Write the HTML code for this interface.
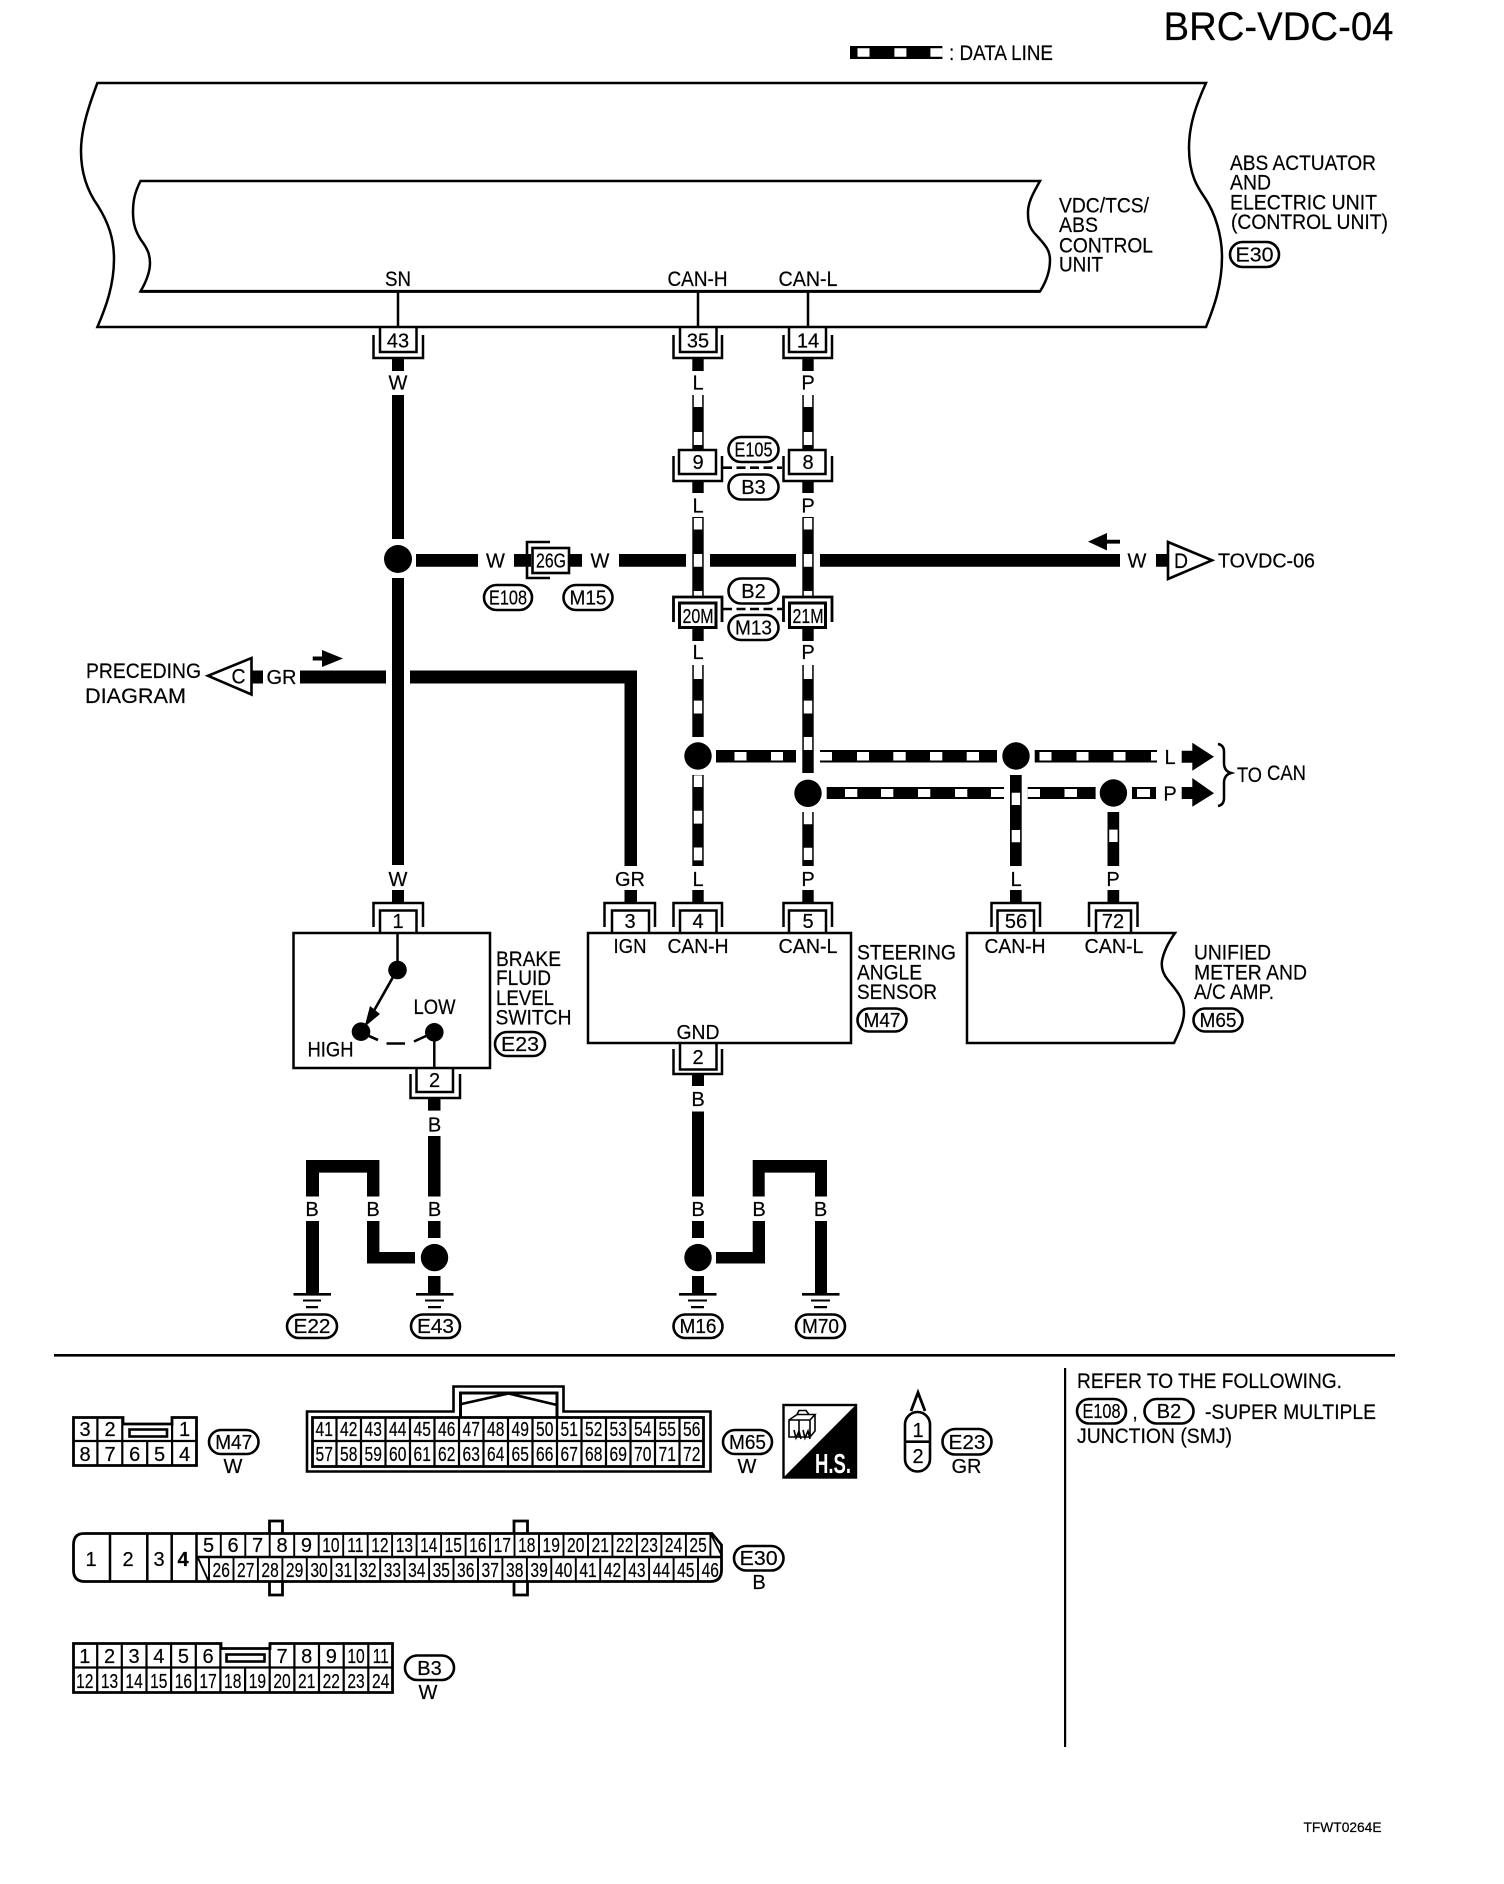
<!DOCTYPE html>
<html><head><meta charset="utf-8"><title>BRC-VDC-04</title>
<style>
html,body{margin:0;padding:0;background:#fff}
svg{display:block}
text{font-family:"Liberation Sans",sans-serif;font-size:20px;fill:#000;text-anchor:middle;stroke:#000;stroke-width:.2}
.s{text-anchor:start}
.l{font-size:21px}
.d{transform-box:fill-box;transform-origin:center;transform:scaleX(.78)}
.ln{fill:none;stroke:#000;stroke-width:2.5}
.ov{fill:#fff;stroke:#000;stroke-width:2.6}
</style></head><body>
<svg width="1504" height="1884" viewBox="0 0 1504 1884" xmlns="http://www.w3.org/2000/svg">
<rect width="1504" height="1884" fill="#fff"/>
<text class="s" x="1163.5" y="40" style="font-size:40px" textLength="230" lengthAdjust="spacingAndGlyphs">BRC-VDC-04</text>
<rect x="850" y="46" width="92.4" height="13"/>
<path fill="#fff" d="M857.5 48.2h12v8.6h-12zM894.4 48.2h12v8.6h-12zM930.4 48.2h12v8.6h-12z"/>
<text class="s l" x="949" y="60" textLength="104" lengthAdjust="spacingAndGlyphs">: DATA LINE</text>

<!-- control units -->
<path class="ln" d="M97.4 83H1206C1196 105 1189 125 1189 148C1189 175 1198 188 1205 198C1215 213 1222 235 1222 257C1222 285 1214 307 1206 327H97.4C106 307 114 285 114 259C114 238 108 222 98 206C88 192 81 175 81 151C81 130 88 108 97.4 83Z"/>
<path class="ln" d="M140.5 181H1040C1034 192 1027.5 202 1028 214C1028 226 1032 231 1038 237C1045 245 1050 250 1050 260C1050 272 1046 282 1040 291.4H140.5C146 282 150 272 150 263C150 254 147 248 141 240C136 232 133 225 133 212C133 200 135 192 140.5 181Z"/>
<path class="ln" style="stroke-width:3" d="M140.5 291.4H1040"/>
<path class="ln" d="M398 291V327M698 291V327M808 291V327"/>
<text class="l" x="398" y="286" textLength="26" lengthAdjust="spacingAndGlyphs">SN</text>
<text class="l" x="697.5" y="286" textLength="60" lengthAdjust="spacingAndGlyphs">CAN-H</text>
<text class="l" x="808" y="286" textLength="59" lengthAdjust="spacingAndGlyphs">CAN-L</text>
<text class="s l" x="1059" y="212.5" textLength="90" lengthAdjust="spacingAndGlyphs">VDC/TCS/</text>
<text class="s l" x="1059" y="232" textLength="39" lengthAdjust="spacingAndGlyphs">ABS</text>
<text class="s l" x="1059" y="252.5" textLength="94" lengthAdjust="spacingAndGlyphs">CONTROL</text>
<text class="s l" x="1059" y="271.5" textLength="44" lengthAdjust="spacingAndGlyphs">UNIT</text>
<text class="s l" x="1230" y="170" textLength="146" lengthAdjust="spacingAndGlyphs">ABS ACTUATOR</text>
<text class="s l" x="1230" y="189.5" textLength="41" lengthAdjust="spacingAndGlyphs">AND</text>
<text class="s l" x="1230" y="209.5" textLength="147" lengthAdjust="spacingAndGlyphs">ELECTRIC UNIT</text>
<text class="s l" x="1231" y="229" textLength="157" lengthAdjust="spacingAndGlyphs">(CONTROL UNIT)</text>
<rect class="ov" x="1230" y="242" width="49" height="25" rx="12.5"/><text x="1254.5" y="261.5" textLength="38" lengthAdjust="spacingAndGlyphs">E30</text>

<!-- wires black -->
<path d="M392 358h12v13h-12zM392 395h12v144h-12zM392 578h12v287h-12zM392 890h12v13h-12z"/>
<path d="M692.3 358h11.4v13h-11.4zM692.3 395h11.4v54h-11.4zM692.3 481h11.4v12h-11.4zM692.3 517h11.4v80h-11.4zM692.3 627h11.4v14h-11.4zM692.3 665h11.4v72h-11.4zM692.3 775h11.4v91h-11.4zM692.3 890h11.4v13h-11.4z"/>
<path d="M802.3 358h11.4v13h-11.4zM802.3 395h11.4v54h-11.4zM802.3 481h11.4v12h-11.4zM802.3 517h11.4v80h-11.4zM802.3 627h11.4v14h-11.4zM802.3 665h11.4v108h-11.4zM802.3 812h11.4v54h-11.4zM802.3 890h11.4v13h-11.4z"/>
<path d="M1010 775h11.7v91h-11.7zM1010 890h11.7v13h-11.7zM1107.5 812h11.7v54h-11.7zM1107.5 890h11.7v13h-11.7z"/>
<!-- W horizontal -->
<path d="M416 554h62v12.7h-62zM514 554h17v12.7h-17zM569 554h13v12.7h-13zM619 554h67v12.7h-67zM710 554h86v12.7h-86zM820 554h300v12.7H820zM1156 554h12v12.7h-12z"/>
<!-- GR -->
<path d="M252 670.5h11v13h-11zM300 670.5h86v13h-86zM410 670.5h227V866h-12.5V683.5H410zM624.5 890H637v13h-12.5z"/>
<!-- CAN horizontals -->
<path d="M716 750h80v12.5h-80zM820 750h177v12.5H820zM1034.7 750h122.3v12.5h-122.3z"/>
<path d="M826.7 787h177.3v12h-177.3zM1027.7 787h67.9v12h-67.9zM1132 787h24v12h-24z"/>
<!-- B wires -->
<path d="M428 1098h12.5v12.6H428zM428 1136h12.5v60.5H428zM428 1221h12.5v17H428zM428 1276h12.5v18H428z"/>
<path d="M306 1294V1221h13v73zM306 1196.5V1160h73.4v36.5H367V1172.6H319v23.9zM367 1221h12.4v31H415v11.5H367z"/>
<path d="M692 1074h12v12h-12zM692 1111.5h12v85h-12zM692 1221h12v17h-12zM692 1276h12v18h-12z"/>
<path d="M716 1252h36.7V1221H765v42.5h-49zM752.7 1196.5V1160H827v36.5h-12V1172.6h-50.3v23.9zM815 1221h12v73h-12z"/>
<!-- white dashes -->
<path fill="#fff" d="M693.8 395h8.4v12h-8.4zM693.8 432h8.4v13h-8.4zM693.8 518h8.4v11.5h-8.4zM693.8 554h8.4v12.7h-8.4zM693.8 591h8.4v5h-8.4zM693.8 665h8.4v14h-8.4zM693.8 700.6h8.4v12.9h-8.4zM693.8 775.4h8.4v11.6h-8.4zM693.8 810.8h8.4v12.8h-8.4zM693.8 847.5h8.4v12.9h-8.4z"/>
<path fill="#fff" d="M803.8 395h8.4v12h-8.4zM803.8 432h8.4v13h-8.4zM803.8 518h8.4v11.5h-8.4zM803.8 554h8.4v12.7h-8.4zM803.8 591h8.4v5h-8.4zM803.8 665h8.4v14h-8.4zM803.8 700.6h8.4v12.9h-8.4zM803.8 737h8.4v13h-8.4zM803.8 812h8.4v12.3h-8.4zM803.8 847.7h8.4v12.3h-8.4z"/>
<path fill="#fff" d="M1011.7 792.7h8.4V805h-8.4zM1011.7 830h8.4v12.3h-8.4zM1109.2 829.6h8.4V842h-8.4z"/>
<path fill="#fff" d="M734.5 752h12v8.5h-12zM771 752h12v8.5h-12zM820 752h12v8.5h-12zM857 752h12v8.5h-12zM893.3 752h12.4v8.5h-12.4zM930 752h12.3v8.5H930zM966.7 752h12.3v8.5h-12.3zM1039.5 752h12v8.5h-12zM1076.5 752h12v8.5h-12zM1113.5 752h12v8.5h-12zM1151 752h6v8.5h-6z"/>
<path fill="#fff" d="M845 789h12.3v8H845zM881 789h12.3v8H881zM918 789h12.3v8H918zM955 789h12.3v8H955zM991 789h13v8h-13zM1027.7 789h12.3v8h-12.3zM1064.5 789h12.5v8h-12.5zM1137 789h13v8h-13z"/>
<!-- dots -->
<circle cx="398" cy="559" r="14"/><circle cx="698" cy="756" r="13.7"/><circle cx="808" cy="793.3" r="13.7"/><circle cx="1016" cy="756" r="13.7"/><circle cx="1113.4" cy="793" r="13.7"/><circle cx="434.5" cy="1257.6" r="13.7"/><circle cx="698" cy="1257.6" r="13.7"/>

<!-- wire letters -->
<text x="398" y="389.5">W</text><text x="698" y="389.5">L</text><text x="808" y="389.5">P</text>
<text x="698" y="512.5">L</text><text x="808" y="512.5">P</text>
<text x="698" y="659">L</text><text x="808" y="659">P</text>
<text x="398" y="886">W</text><text x="630" y="886">GR</text><text x="698" y="886">L</text><text x="808" y="886">P</text><text x="1016" y="886">L</text><text x="1113" y="886">P</text>
<text x="495.5" y="567.5">W</text><text x="600" y="567.5">W</text><text x="1137" y="567.5">W</text>
<text x="281.5" y="684">GR</text>
<text x="1170" y="764">L</text><text x="1170" y="800.5">P</text>
<text x="434.5" y="1131.5">B</text><text x="434.5" y="1216">B</text><text x="312" y="1216">B</text><text x="373" y="1216">B</text>
<text x="698" y="1106">B</text><text x="698" y="1216">B</text><text x="759" y="1216">B</text><text x="820.5" y="1216">B</text>

<!-- connectors: bottom type -->
<path class="ln" d="M373.5 335V358H423V335M673.5 335V358H722V335M783.5 335V358H832V335"/>
<path class="ln" d="M380 327V352H416.5V327M680 327V352H716.5V327M789 327V352H826V327"/>
<text x="398" y="347.5">43</text><text x="698" y="347.5">35</text><text x="808" y="347.5">14</text>
<path class="ln" d="M673.5 456V481H722V456M783.5 456V481H832V456"/>
<rect class="ln" x="679" y="450" width="37" height="24" style="fill:#fff"/><rect class="ln" x="789" y="450" width="36.5" height="24" style="fill:#fff"/>
<text x="698" y="469">9</text><text x="808" y="469">8</text>
<rect class="ov" x="728.5" y="437" width="50" height="25" rx="12.5"/><text x="753.5" y="456.5" textLength="38" lengthAdjust="spacingAndGlyphs">E105</text>
<rect class="ov" x="728.5" y="474.5" width="50" height="25" rx="12.5"/><text x="753.5" y="494">B3</text>
<path d="M723 467.7H782" stroke="#000" stroke-width="2.6" stroke-dasharray="9 4.5" fill="none"/>
<!-- 20M / 21M -->
<path class="ln" d="M673.5 622V597H722V622M783.5 622V597H832V622" style="stroke-width:2.8"/>
<rect x="679.5" y="603" width="36.5" height="24.5" fill="#fff" stroke="#000" stroke-width="3"/><rect x="789.5" y="603" width="36" height="24.5" fill="#fff" stroke="#000" stroke-width="3"/>
<text x="698" y="623" textLength="31" lengthAdjust="spacingAndGlyphs">20M</text><text x="808" y="623" textLength="31" lengthAdjust="spacingAndGlyphs">21M</text>
<rect class="ov" x="728.5" y="578.5" width="50" height="25" rx="12.5"/><text x="753.5" y="598">B2</text>
<rect class="ov" x="728.5" y="615" width="50" height="25" rx="12.5"/><text x="753.5" y="634.5" textLength="37" lengthAdjust="spacingAndGlyphs">M13</text>
<path d="M723 609H782" stroke="#000" stroke-width="2.6" stroke-dasharray="9 4.5" fill="none"/>
<!-- 26G -->
<path class="ln" d="M550 542H527V578H550" style="stroke-width:2.6"/>
<rect x="532.5" y="548" width="36.5" height="25" fill="#fff" stroke="#000" stroke-width="2.6"/>
<text x="551" y="567.5" textLength="30" lengthAdjust="spacingAndGlyphs">26G</text>
<rect class="ov" x="484" y="585" width="48" height="25" rx="12.5"/><text x="508" y="604.5" textLength="38" lengthAdjust="spacingAndGlyphs">E108</text>
<rect class="ov" x="563.5" y="585" width="49" height="25" rx="12.5"/><text x="588" y="604.5" textLength="37" lengthAdjust="spacingAndGlyphs">M15</text>
<!-- triangles & arrows -->
<path fill="#fff" stroke="#000" stroke-width="2.6" d="M1168 542V579L1212 560.3Z"/><text x="1181" y="568" style="font-size:21px" textLength="14" lengthAdjust="spacingAndGlyphs">D</text>
<text class="s" x="1218" y="567.5" textLength="97" lengthAdjust="spacingAndGlyphs">TOVDC-06</text>
<path d="M1088 541.6L1107 533V539.8H1120V543.6H1107V550.5Z"/>
<path fill="#fff" stroke="#000" stroke-width="2.6" d="M251.5 658V694.5L208 675.8Z"/><text x="238.5" y="683.5" style="font-size:21px" textLength="14" lengthAdjust="spacingAndGlyphs">C</text>
<text class="s l" x="86" y="678" textLength="115" lengthAdjust="spacingAndGlyphs">PRECEDING</text>
<text class="s l" x="85" y="703" textLength="101" lengthAdjust="spacingAndGlyphs">DIAGRAM</text>
<path d="M343 658.5L322 650V656.5H312.7V660.5H322V667Z"/>
<path d="M1181.7 750.7h10.6v-8l21.7 14-21.7 14v-8h-10.6z"/>
<path d="M1181.7 787h10.6v-9l21.7 15.3-21.7 13.4v-7.7h-10.6z"/>
<path class="ln" d="M1218 744Q1224 745 1224 752V763Q1224 771 1231 773Q1224 775 1224 783V798Q1224 805 1218 806"/>
<text class="s l" x="1237" y="782" textLength="25" lengthAdjust="spacingAndGlyphs">TO</text>
<text class="s l" x="1267" y="780" textLength="39" lengthAdjust="spacingAndGlyphs">CAN</text>

<!-- top-type connectors -->
<path class="ln" d="M373.5 927V903H423V927M604.5 927V903H655V927M673.5 927V903H722V927M783.5 927V903H832V927M991.5 927V903H1040V927M1089 927V903H1137.5V927"/>
<path class="ln" d="M380 933V910.5H416.5V933M612 933V910.5H649V933M680 933V910.5H716.5V933M789 933V910.5H826V933M997.5 933V910.5H1034V933M1096 933V910.5H1131V933"/>
<text x="398" y="928">1</text><text x="630" y="928">3</text><text x="698" y="928">4</text><text x="808" y="928">5</text><text x="1016" y="928">56</text><text x="1113" y="928">72</text>

<!-- brake switch -->
<rect class="ln" x="293.5" y="933" width="196.5" height="135" style="stroke-width:2.5"/>
<path class="ln" d="M397.5 933V970M434.3 1032V1068"/>
<circle cx="397.5" cy="970" r="9.3"/><circle cx="361" cy="1031.7" r="9.3"/><circle cx="434.3" cy="1032.3" r="9.3"/>
<path class="ln" d="M397 970L371 1016" style="stroke-width:2.6"/>
<path d="M364.5 1027L370 1006L380 1014Z"/>
<path class="ln" d="M369 1036L378 1040M386.5 1043.5H405M414 1041.5L426 1036" style="stroke-width:2.6"/>
<text class="l" x="434.5" y="1014" textLength="42" lengthAdjust="spacingAndGlyphs">LOW</text>
<text class="l" x="330.5" y="1056.5" textLength="46" lengthAdjust="spacingAndGlyphs">HIGH</text>
<path class="ln" d="M410.5 1074V1098H460V1074"/>
<path class="ln" d="M416.5 1068V1092H453V1068"/>
<text x="434.5" y="1087">2</text>
<text class="s l" x="496" y="966" textLength="65" lengthAdjust="spacingAndGlyphs">BRAKE</text>
<text class="s l" x="496" y="985" textLength="55" lengthAdjust="spacingAndGlyphs">FLUID</text>
<text class="s l" x="496" y="1005" textLength="58" lengthAdjust="spacingAndGlyphs">LEVEL</text>
<text class="s l" x="495.5" y="1024.5" textLength="76" lengthAdjust="spacingAndGlyphs">SWITCH</text>
<rect class="ov" x="495" y="1032" width="50" height="24" rx="12"/><text x="520" y="1051" textLength="38" lengthAdjust="spacingAndGlyphs">E23</text>

<!-- steering -->
<rect class="ln" x="588" y="933" width="263" height="110" style="stroke-width:2.5"/>
<text x="630" y="953" textLength="33" lengthAdjust="spacingAndGlyphs">IGN</text>
<text x="698" y="953" textLength="61" lengthAdjust="spacingAndGlyphs">CAN-H</text>
<text x="808" y="953" textLength="59" lengthAdjust="spacingAndGlyphs">CAN-L</text>
<text x="698" y="1039" textLength="43" lengthAdjust="spacingAndGlyphs">GND</text>
<path class="ln" d="M673.5 1049V1074H722V1049"/>
<path class="ln" d="M680 1043V1069.5H716.5V1043"/>
<text x="698" y="1064">2</text>
<text class="s l" x="857" y="959.5" textLength="99" lengthAdjust="spacingAndGlyphs">STEERING</text>
<text class="s l" x="857" y="979.5" textLength="65" lengthAdjust="spacingAndGlyphs">ANGLE</text>
<text class="s l" x="857" y="999" textLength="80" lengthAdjust="spacingAndGlyphs">SENSOR</text>
<rect class="ov" x="857.5" y="1008.5" width="49" height="23" rx="11.5"/><text x="882" y="1027" textLength="37" lengthAdjust="spacingAndGlyphs">M47</text>

<!-- meter -->
<path class="ln" d="M1175 933H967V1043H1174C1180 1030 1184 1022 1184 1012C1184 998 1176 990 1168 980C1163 974 1161 968 1162 961C1164 950 1170 940 1175 933Z" style="stroke-width:2.5"/>
<text x="1015" y="953" textLength="61" lengthAdjust="spacingAndGlyphs">CAN-H</text>
<text x="1114" y="953" textLength="59" lengthAdjust="spacingAndGlyphs">CAN-L</text>
<text class="s l" x="1194" y="959.5" textLength="77" lengthAdjust="spacingAndGlyphs">UNIFIED</text>
<text class="s l" x="1194" y="979.5" textLength="113" lengthAdjust="spacingAndGlyphs">METER AND</text>
<text class="s l" x="1194" y="999" textLength="80" lengthAdjust="spacingAndGlyphs">A/C AMP.</text>
<rect class="ov" x="1193.5" y="1008.5" width="49" height="23" rx="11.5"/><text x="1218" y="1027" textLength="37" lengthAdjust="spacingAndGlyphs">M65</text>

<!-- grounds -->
<path d="M293.5 1293h37.5v2.6h-37.5zM303 1299.5h18v2h-18zM306 1306h12v2.2h-12zM416 1293h37.5v2.6H416zM425 1299.5h19v2h-19zM428 1306h13v2.2h-13zM679 1293h37.5v2.6H679zM688 1299.5h19v2h-19zM691 1306h13v2.2h-13zM802 1293h37.5v2.6H802zM811 1299.5h19v2h-19zM814 1306h13v2.2h-13z"/>
<rect class="ov" x="287" y="1314.5" width="50" height="23.5" rx="11.7"/><text x="312" y="1333" textLength="37" lengthAdjust="spacingAndGlyphs">E22</text>
<rect class="ov" x="411" y="1314.5" width="49" height="23.5" rx="11.7"/><text x="435.5" y="1333" textLength="37" lengthAdjust="spacingAndGlyphs">E43</text>
<rect class="ov" x="673.5" y="1314.5" width="49" height="23.5" rx="11.7"/><text x="698" y="1333" textLength="37" lengthAdjust="spacingAndGlyphs">M16</text>
<rect class="ov" x="796" y="1314.5" width="49" height="23.5" rx="11.7"/><text x="820.5" y="1333" textLength="37" lengthAdjust="spacingAndGlyphs">M70</text>

<!-- dividers -->
<path d="M54 1354h1341v2.6H54zM1064 1368h2.2v379H1064z"/>
<text class="s l" x="1077" y="1388" textLength="265" lengthAdjust="spacingAndGlyphs">REFER TO THE FOLLOWING.</text>
<rect class="ov" x="1077" y="1399" width="49" height="24.5" rx="12.2"/><text x="1101.5" y="1418" textLength="38" lengthAdjust="spacingAndGlyphs">E108</text>
<text x="1135" y="1419">,</text>
<rect class="ov" x="1144.5" y="1399" width="49" height="24.5" rx="12.2"/><text x="1169" y="1418">B2</text>
<text class="s l" x="1205" y="1419" textLength="171" lengthAdjust="spacingAndGlyphs">-SUPER MULTIPLE</text>
<text class="s l" x="1077" y="1443" textLength="155" lengthAdjust="spacingAndGlyphs">JUNCTION (SMJ)</text>
<text class="s" x="1303.5" y="1832" style="font-size:14px" textLength="78" lengthAdjust="spacingAndGlyphs">TFWT0264E</text>

<!-- M47 connector -->
<path class="ln" style="stroke-width:2.8" d="M73.5 1417.5H123V1424H172V1417.5H196.5V1465.5H73.5Z"/>
<path class="ln" style="stroke-width:2.2" d="M73.5 1441H196.5M97.4 1417.5V1465.5M122.3 1417.5V1465.5M147.2 1441V1465.5M172.1 1417.5V1465.5"/>
<rect x="129.5" y="1429.5" width="37.5" height="7" fill="none" stroke="#000" stroke-width="2.6"/>
<text x="85" y="1436">3</text><text x="110" y="1436">2</text><text x="184.5" y="1436">1</text>
<text x="85" y="1461">8</text><text x="110" y="1461">7</text><text x="134.7" y="1461">6</text><text x="159.6" y="1461">5</text><text x="184.5" y="1461">4</text>
<rect class="ov" x="209" y="1430" width="49.5" height="24" rx="12"/><text x="233.7" y="1449" textLength="37" lengthAdjust="spacingAndGlyphs">M47</text>
<text x="233" y="1473">W</text>

<!-- M65 connector -->
<path class="ln" style="stroke-width:2.6" d="M307 1411.5H453.5V1386.5H563.5V1411.5H710.5V1471.5H307Z"/>
<rect class="ln" x="312.5" y="1417.5" width="391" height="49" style="stroke-width:2.8"/>
<path class="ln" style="stroke-width:3" d="M460.5 1417V1393H557V1417"/>
<path class="ln" style="stroke-width:2.6" d="M461.5 1404L508.5 1393.5L557 1405"/>
<path class="ln" style="stroke-width:2.2" d="M312.5 1441H703.5M336.5 1417V1466M361 1417V1466M385.5 1417V1466M410 1417V1466M434.5 1417V1466M459 1417V1466M483.5 1417V1466M508 1417V1466M532.5 1417V1466M557 1417V1466M581.5 1417V1466M606 1417V1466M630.5 1417V1466M655 1417V1466M679.5 1417V1466"/>
<g>
<text class="d" x="324.2" y="1436">41</text><text class="d" x="348.7" y="1436">42</text><text class="d" x="373.2" y="1436">43</text><text class="d" x="397.7" y="1436">44</text><text class="d" x="422.2" y="1436">45</text><text class="d" x="446.7" y="1436">46</text><text class="d" x="471.2" y="1436">47</text><text class="d" x="495.7" y="1436">48</text><text class="d" x="520.2" y="1436">49</text><text class="d" x="544.7" y="1436">50</text><text class="d" x="569.2" y="1436">51</text><text class="d" x="593.7" y="1436">52</text><text class="d" x="618.2" y="1436">53</text><text class="d" x="642.7" y="1436">54</text><text class="d" x="667.2" y="1436">55</text><text class="d" x="691.7" y="1436">56</text>
<text class="d" x="324.2" y="1461">57</text><text class="d" x="348.7" y="1461">58</text><text class="d" x="373.2" y="1461">59</text><text class="d" x="397.7" y="1461">60</text><text class="d" x="422.2" y="1461">61</text><text class="d" x="446.7" y="1461">62</text><text class="d" x="471.2" y="1461">63</text><text class="d" x="495.7" y="1461">64</text><text class="d" x="520.2" y="1461">65</text><text class="d" x="544.7" y="1461">66</text><text class="d" x="569.2" y="1461">67</text><text class="d" x="593.7" y="1461">68</text><text class="d" x="618.2" y="1461">69</text><text class="d" x="642.7" y="1461">70</text><text class="d" x="667.2" y="1461">71</text><text class="d" x="691.7" y="1461">72</text>
</g>
<rect class="ov" x="723" y="1430" width="49" height="24" rx="12"/><text x="747.5" y="1449" textLength="37" lengthAdjust="spacingAndGlyphs">M65</text>
<text x="747" y="1473">W</text>

<!-- HS -->
<rect x="783.5" y="1405" width="72.5" height="72.5" fill="#fff" stroke="#000" stroke-width="2.4"/>
<path d="M856.7 1404V1478.3H782.7Z"/>
<path class="ln" style="stroke-width:1.6" d="M789 1420L797 1414.5H815L810 1420H789V1437H810V1420M815 1414.5V1431L810 1437M799 1420V1437M797 1414.5L799 1410.5H806L809 1414.5M794 1430L796 1438L799 1431L801 1439M803 1430L805 1438L808 1431L810 1439"/>
<text x="833" y="1473" style="font-size:28px;font-weight:bold;fill:#fff;stroke:none" textLength="36" lengthAdjust="spacingAndGlyphs">H.S.</text>

<!-- E23 connector -->
<rect class="ln" x="905" y="1412" width="25" height="59.5" rx="12.5" style="stroke-width:2.6"/>
<path class="ln" d="M905 1441.7H930" style="stroke-width:2.6"/>
<path class="ln" style="stroke-width:2.8" d="M911 1411L918 1392.5L925 1411"/>
<text x="918" y="1437">1</text><text x="918" y="1463">2</text>
<rect class="ov" x="942.5" y="1429" width="49" height="25.5" rx="12.7"/><text x="967" y="1449" textLength="37" lengthAdjust="spacingAndGlyphs">E23</text>
<text x="966.5" y="1473">GR</text>

<!-- E30 connector -->
<path class="ln" style="stroke-width:2.8" d="M269.5 1533V1521H282.5V1533M514 1533V1521H527.5V1533M269.5 1582V1595H282.5V1582M514 1582V1595H527.5V1582"/>
<path class="ln" style="stroke-width:2.8" d="M84 1533.5H712L721.5 1545V1570Q721.5 1581 711 1581.5H84Q73.5 1581 73.5 1570V1545Q73.5 1533.5 84 1533.5Z"/>
<path class="ln" d="M110 1533.5V1581.5M147.3 1533.5V1581.5M171.7 1533.5V1581.5M196.5 1533.5V1581.5M196.5 1557H721.5"/>
<path class="ln" style="stroke-width:1.9" d="M220.8 1533.5V1557M245.3 1533.5V1557M269.7 1533.5V1557M294.2 1533.5V1557M318.7 1533.5V1557M343.2 1533.5V1557M367.7 1533.5V1557M392.1 1533.5V1557M416.6 1533.5V1557M441.1 1533.5V1557M465.6 1533.5V1557M490.1 1533.5V1557M514.5 1533.5V1557M539 1533.5V1557M563.5 1533.5V1557M588 1533.5V1557M612.4 1533.5V1557M636.9 1533.5V1557M661.4 1533.5V1557M685.9 1533.5V1557M710.4 1533.5V1557M710.4 1533.5L722 1556"/>
<path class="ln" style="stroke-width:1.9" d="M209 1557V1581.5M233.5 1557V1581.5M257.9 1557V1581.5M282.4 1557V1581.5M306.8 1557V1581.5M331.3 1557V1581.5M355.7 1557V1581.5M380.2 1557V1581.5M404.6 1557V1581.5M429.1 1557V1581.5M453.5 1557V1581.5M478 1557V1581.5M502.4 1557V1581.5M526.9 1557V1581.5M551.3 1557V1581.5M575.8 1557V1581.5M600.2 1557V1581.5M624.7 1557V1581.5M649.1 1557V1581.5M673.6 1557V1581.5M698 1557V1581.5M198 1558L208.5 1581"/>
<text x="91" y="1566">1</text><text x="128" y="1566">2</text><text x="159" y="1566">3</text><text x="183" y="1566" font-weight="bold">4</text>
<g>
<text x="208.5" y="1552">5</text><text x="233" y="1552">6</text><text x="257.5" y="1552">7</text><text x="282" y="1552">8</text><text x="306.4" y="1552">9</text><text class="d" x="330.9" y="1552">10</text><text class="d" x="355.4" y="1552">11</text><text class="d" x="379.9" y="1552">12</text><text class="d" x="404.4" y="1552">13</text><text class="d" x="428.8" y="1552">14</text><text class="d" x="453.3" y="1552">15</text><text class="d" x="477.8" y="1552">16</text><text class="d" x="502.3" y="1552">17</text><text class="d" x="526.8" y="1552">18</text><text class="d" x="551.2" y="1552">19</text><text class="d" x="575.7" y="1552">20</text><text class="d" x="600.2" y="1552">21</text><text class="d" x="624.7" y="1552">22</text><text class="d" x="649.2" y="1552">23</text><text class="d" x="673.6" y="1552">24</text><text class="d" x="698.1" y="1552">25</text>
<text class="d" x="221.2" y="1577">26</text><text class="d" x="245.7" y="1577">27</text><text class="d" x="270.1" y="1577">28</text><text class="d" x="294.6" y="1577">29</text><text class="d" x="319" y="1577">30</text><text class="d" x="343.5" y="1577">31</text><text class="d" x="367.9" y="1577">32</text><text class="d" x="392.4" y="1577">33</text><text class="d" x="416.8" y="1577">34</text><text class="d" x="441.3" y="1577">35</text><text class="d" x="465.7" y="1577">36</text><text class="d" x="490.2" y="1577">37</text><text class="d" x="514.7" y="1577">38</text><text class="d" x="539.1" y="1577">39</text><text class="d" x="563.6" y="1577">40</text><text class="d" x="588" y="1577">41</text><text class="d" x="612.5" y="1577">42</text><text class="d" x="636.9" y="1577">43</text><text class="d" x="661.4" y="1577">44</text><text class="d" x="685.8" y="1577">45</text><text class="d" x="710.3" y="1577">46</text>
</g>
<rect class="ov" x="734" y="1546" width="49.5" height="24.5" rx="12.2"/><text x="758.7" y="1565" textLength="38" lengthAdjust="spacingAndGlyphs">E30</text>
<text x="759" y="1589">B</text>

<!-- B3 connector -->
<path class="ln" style="stroke-width:2.8" d="M73.5 1643.5H221V1648.5H270V1643.5H392.5V1692.5H73.5Z"/>
<path class="ln" style="stroke-width:2.2" d="M73.5 1667.5H392.5M97.2 1643.5V1692.5M121.8 1643.5V1692.5M146.5 1643.5V1692.5M171.1 1643.5V1692.5M195.8 1643.5V1692.5M220.4 1643.5V1692.5M245.1 1667.5V1692.5M269.7 1643.5V1692.5M294.4 1643.5V1692.5M319 1643.5V1692.5M343.7 1643.5V1692.5M368.3 1643.5V1692.5"/>
<rect x="226.5" y="1654.5" width="38" height="7" fill="none" stroke="#000" stroke-width="2.6"/>
<g>
<text x="84.8" y="1663">1</text><text x="109.5" y="1663">2</text><text x="134.1" y="1663">3</text><text x="158.8" y="1663">4</text><text x="183.4" y="1663">5</text><text x="208.1" y="1663">6</text><text x="282" y="1663">7</text><text x="306.7" y="1663">8</text><text x="331.3" y="1663">9</text><text class="d" x="356" y="1663">10</text><text class="d" x="380.7" y="1663">11</text>
<text class="d" x="84.8" y="1688">12</text><text class="d" x="109.5" y="1688">13</text><text class="d" x="134.1" y="1688">14</text><text class="d" x="158.8" y="1688">15</text><text class="d" x="183.4" y="1688">16</text><text class="d" x="208.1" y="1688">17</text><text class="d" x="232.7" y="1688">18</text><text class="d" x="257.4" y="1688">19</text><text class="d" x="282" y="1688">20</text><text class="d" x="306.7" y="1688">21</text><text class="d" x="331.3" y="1688">22</text><text class="d" x="356" y="1688">23</text><text class="d" x="380.7" y="1688">24</text>
</g>
<rect class="ov" x="405" y="1655.5" width="49" height="24.5" rx="12.2"/><text x="429.5" y="1675">B3</text>
<text x="428" y="1699">W</text>
</svg>
</body></html>
